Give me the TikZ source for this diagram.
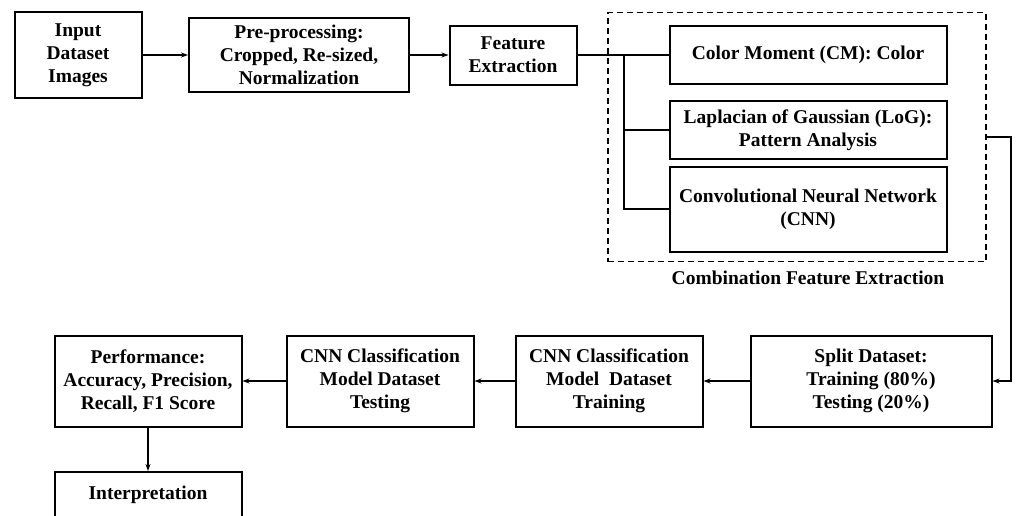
\documentclass[tikz,border=0pt]{standalone}
\usepackage{fontspec}
\setmainfont{Liberation Serif}
\usepackage{tikz}
\usetikzlibrary{arrows.meta}

\begin{document}
\begin{tikzpicture}[x=1pt,y=-1pt,
  box/.style={draw, line width=2pt, inner sep=0pt, align=center,
    font=\bfseries\fontsize{19.5}{23}\selectfont},
  arr/.style={line width=2pt, -{Stealth[length=7pt,width=5pt]}},
  link/.style={line width=2pt}]
\clip (0,0) rectangle (1016,515);
\useasboundingbox (0,0) rectangle (1016,515);
% top row
\node[box, minimum width=127, minimum height=86] (inp) at (78,55){Input\\Dataset\\Images};
\node[box, minimum width=220, minimum height=74] (pre) at (299,55){Pre-processing:\\Cropped, Re-sized,\\Normalization};
\node[box, minimum width=127, minimum height=59] (feat) at (513,55){Feature\\Extraction};
% combination group
\node[draw, line width=1.5pt, dash pattern=on 6pt off 4pt, minimum width=378, minimum height=249] (grp) at (797,137){};
\node[box, minimum width=277, minimum height=58] (cm) at (808,55){Color Moment (CM): Color};
\node[box, minimum width=277, minimum height=58] (log) at (808,130){Laplacian of Gaussian (LoG):\\Pattern Analysis};
\node[box, minimum width=277, minimum height=85] (cnn) at (808,209){Convolutional Neural Network\\(CNN)};
\node[font=\bfseries\fontsize{19.5}{23}\selectfont] (grplbl) at (808,278){Combination Feature Extraction};
% bottom row
\node[box, minimum width=241, minimum height=91] (split) at (871,381){Split Dataset:\\Training (80\%)\\Testing (20\%)};
\node[box, minimum width=187, minimum height=91] (train) at (609,381){CNN Classification\\Model\ \ Dataset\\Training};
\node[box, minimum width=187, minimum height=91] (test) at (380,381){CNN Classification\\Model Dataset\\Testing};
\node[box, minimum width=187, minimum height=91] (perf) at (148,381){Performance:\\Accuracy, Precision,\\Recall, F1 Score};
\node[box, minimum width=187, minimum height=46] (interp) at (148,495){Interpretation};
\coordinate (bus) at (624,55);
\coordinate (turn) at (1011,137);
% connectors
\foreach \from/\to in {inp/pre,pre/feat,split/train,train/test,test/perf,perf/interp}
\draw[arr] (\from) -- (\to);
\draw[link] (feat.east) -- (cm.west);
\draw[link] (bus) -- (bus |- cnn.west) -- (cnn.west);
\draw[link] (bus |- log.west) -- (log.west);
\draw[arr] (grp.east) -- (turn) |- (split.east);
\end{tikzpicture}
\end{document}
